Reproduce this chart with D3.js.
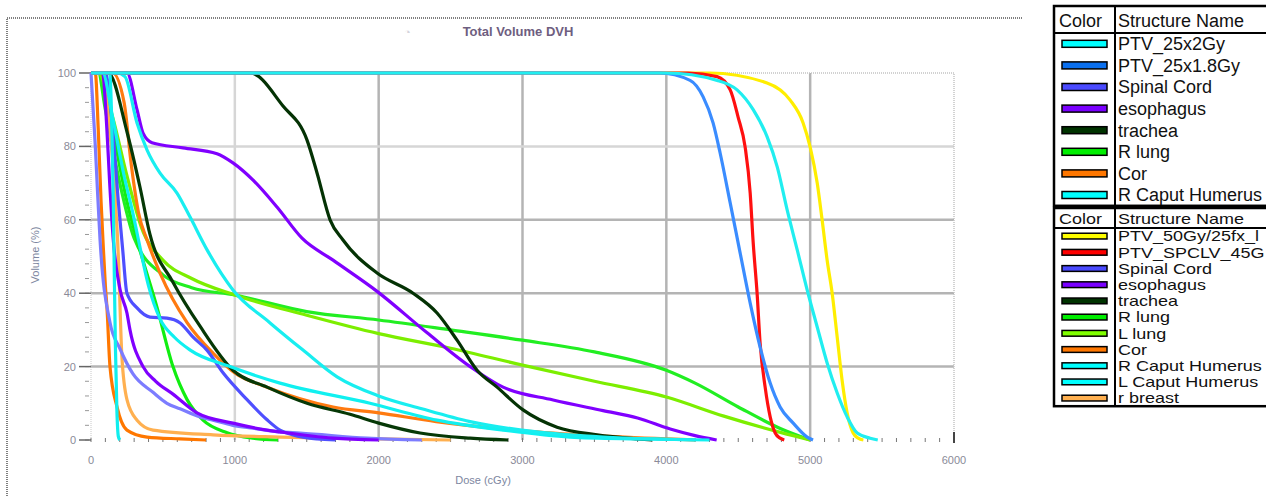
<!DOCTYPE html>
<html>
<head>
<meta charset="utf-8">
<script src="https://cdn.jsdelivr.net/npm/d3@7"></script>
<style>
  html, body { margin: 0; padding: 0; background: #fff; }
  svg { display: block; font-family: "Liberation Sans", Arial, sans-serif; }
</style>
</head>
<body>
<svg id="chart" width="1266" height="496"></svg>
<script>
// DVH curves, [dose cGy, volume %]
const ptv25x2Gy = [[0,100],[4000,100],[4353,98],[4492,95.4],[4604,90],[4701,82.6],[4771,74.4],[4840,62.7],[4910,51.8],[4979,40.9],[5049,30.8],[5118,21],[5188,12.8],[5257,6.3],[5327,1.9],[5417,0.5],[5470,0]];
const ptv25x18Gy = [[0,100],[3950,100],[4165,98],[4256,93.5],[4325,86.4],[4374,78.2],[4444,64.6],[4513,51],[4583,37.3],[4652,25.3],[4722,15.5],[4791,9],[4882,4.6],[4979,0.8],[5020,0]];
const ptv50Gy = [[0,100],[4300,100],[4700,97.3],[4861,92.6],[4951,86.4],[5000,79.8],[5049,70],[5083,60],[5118,49],[5153,40],[5188,28],[5222,16.3],[5257,7.4],[5299,1.9],[5334,0.5],[5370,0]];
const ptvSpclv = [[0,100],[4150,100],[4353,99],[4444,95.4],[4499,88],[4548,79.8],[4583,67.3],[4604,53.7],[4631,40],[4652,26.4],[4687,14.4],[4722,6.3],[4757,1.9],[4791,0.5],[4820,0]];

const spinalCordA = [[0,100],[100,100],[150,85],[190,65],[220,52],[250,40],[320,36],[410,33.5],[528,33.2],[620,31.9],[710,28],[806,24.5],[918,18.3],[1085,11],[1224,5.5],[1314,2.7],[1405,1.4],[1572,0.3],[1700,0]];
const spinalCordB = [[0,100],[15,90],[30,80],[45,68],[63,54.5],[132,32],[200,25],[292,18],[431,13],[528,10],[619,8.5],[758,6.3],[848,5.4],[987,4],[1127,3.2],[1314,2.2],[1453,1.9],[1919,0.5],[2300,0]];

const esophagusA = [[0,100],[250,100],[320,90],[362,83.6],[424,81],[640,79.6],[876,78],[987,75.5],[1127,70.8],[1293,63.5],[1467,55],[1683,49],[1989,40.5],[2337,29.2],[2636,20],[2865,14.4],[3213,10.9],[3560,8],[3800,6],[4027,3],[4200,1.2],[4350,0]];
const esophagusB = [[0,100],[80,100],[110,85],[130,70],[155,54.5],[202,41],[250,34.6],[271,30],[362,20],[450,16],[570,12.5],[737,7.4],[987,4.6],[1224,2.7],[1314,2.2],[1683,0.5],[2000,0]];

const tracheaA = [[0,100],[1106,100],[1335,91],[1502,81.7],[1572,72.7],[1662,60],[1752,54.5],[1989,45.5],[2239,40],[2406,34.6],[2545,27.2],[2684,19],[2823,14.4],[3004,8.2],[3240,3.5],[3519,1.4],[3797,0.3],[3900,0]];
const tracheaB = [[0,100],[120,100],[250,84],[340,69],[410,56],[570,43],[758,31],[987,19],[1224,14.4],[1502,10],[1801,7],[2000,4.6],[2288,1.9],[2636,0.5],[2900,0]];

const rLungA = [[0,100],[80,100],[150,85],[250,65],[320,54.5],[460,36],[570,20],[668,11],[779,5.4],[946,2],[1127,0.5],[1300,0]];
const rLungB = [[0,100],[50,100],[100,90],[200,70],[300,55],[500,45],[700,41.5],[1000,39.5],[1500,35],[2000,32.7],[2500,30],[3000,27.2],[3500,24],[4000,19],[4200,15.5],[4500,9],[4800,3],[5000,0]];
const lLung = [[0,100],[50,100],[150,88],[250,72],[350,58],[500,49],[700,44],[1000,39.5],[1500,34],[2000,29],[2500,25],[3000,20.4],[3500,16],[4000,11.7],[4400,6.5],[4800,2],[5000,0]];

const corA = [[0,100],[150,100],[230,92],[280,75],[330,62],[390,54.5],[480,45.5],[668,32],[848,23.7],[1000,18.3],[1224,14.4],[1683,9],[2000,7.4],[2400,5],[3000,2.5],[3500,1.2],[4000,0.3],[4200,0]];
const corB = [[0,100],[30,100],[50,85],[70,65],[83,54.5],[100,42],[111,36],[132,20],[181,9],[250,2.7],[390,0.8],[620,0.3],[800,0]];
const rBreast = [[0,100],[80,100],[130,85],[170,65],[195,45],[202,36],[215,22.6],[250,11],[320,5.4],[431,2.7],[848,1.4],[1314,0.8],[2000,0.3],[2500,0]];

const humerusA = [[0,100],[130,100],[145,85],[155,65],[162,45],[170,25],[180,8],[190,1],[200,0]];
const humerusB = [[0,100],[180,100],[236,99],[320,86.4],[390,79],[480,72.7],[598,67.3],[688,60.8],[807,51.8],[987,40.9],[1245,31.9],[1474,24.5],[1711,17.2],[2000,12],[2300,8.5],[2636,5],[3100,2.2],[3560,0.8],[4000,0.2],[4200,0]];
const humerusC = [[0,100],[80,100],[150,88],[230,72],[290,62],[330,54.5],[400,42],[480,33],[580,28],[690,24.5],[966,20],[1314,15.5],[1940,10],[2406,5.4],[2865,2.7],[3331,0.8],[3800,0.3],[4300,0]];

// draw order (last on top) and colours
const curves = [
  [rLungB, '#22ee22'], [lLung, '#7cee00'], [rLungA, '#11ee11'],
  [corA, '#ff7a10'], [corB, '#ff7700'], [rBreast, '#ffb050'],
  [spinalCordB, '#7c7cff'], [spinalCordA, '#4f4fff'],
  [esophagusB, '#7f00ff'], [esophagusA, '#8000ff'],
  [tracheaB, '#063806'], [tracheaA, '#043204'],
  [humerusA, '#10eeee'], [humerusC, '#10f0f0'], [humerusB, '#18eef0'],
  [ptv50Gy, '#ffee00'], [ptvSpclv, '#ff1010'], [ptv25x18Gy, '#3a8cff'],
  [ptv25x2Gy, '#20eef0']
];

const xTicks = [0, 1000, 2000, 3000, 4000, 5000, 6000];
const yTicks = [0, 20, 40, 60, 80, 100];

const legend1Names = ['PTV_25x2Gy', 'PTV_25x1.8Gy', 'Spinal Cord', 'esophagus', 'trachea', 'R lung', 'Cor', 'R Caput Humerus'];
const legend1Colors = ['#00ffff', '#0a70f0', '#4a4aff', '#7a00ff', '#003300', '#00ee00', '#ff7700', '#00ffff'];
const legend2Names = ['PTV_50Gy/25fx_l', 'PTV_SPCLV_45G', 'Spinal Cord', 'esophagus', 'trachea', 'R lung', 'L lung', 'Cor', 'R Caput Humerus', 'L Caput Humerus', 'r breast'];
const legend2Colors = ['#ffff00', '#ff0000', '#4a4aff', '#7a00ff', '#003300', '#00ee00', '#80ff00', '#ff7700', '#00ffff', '#00ffff', '#ffb050'];

const svg = d3.select('#chart');

const x = d3.scaleLinear().domain([0, 6000]).range([91, 954]);
const y = d3.scaleLinear().domain([0, 100]).range([440, 73]);

// outer frame (dotted)
svg.append('path')
  .attr('d', 'M7,496V18H1022')
  .attr('fill', 'none')
  .attr('stroke', '#555')
  .attr('stroke-width', 1.5)
  .attr('stroke-dasharray', '1,1');

// title + faint icon
svg.append('text')
  .attr('x', 404).attr('y', 36)
  .attr('font-size', 11)
  .attr('fill', '#d4d4dc')
  .text('◔');
svg.append('text')
  .attr('x', 518).attr('y', 36)
  .attr('text-anchor', 'middle')
  .attr('font-size', 13).attr('font-weight', 'bold')
  .attr('fill', '#6e5e80')
  .text('Total Volume DVH');

// grid
svg.append('g').selectAll('line')
  .data(xTicks.slice(1, -1))
  .join('line')
  .attr('x1', d => x(d)).attr('x2', d => x(d))
  .attr('y1', y(100)).attr('y2', y(0))
  .attr('stroke', d => d === 1000 ? '#d6d6d6' : '#b4b4b4')
  .attr('stroke-width', 2.5);

svg.append('g').selectAll('line')
  .data(yTicks.slice(1, -1))
  .join('line')
  .attr('x1', x(0)).attr('x2', x(6000))
  .attr('y1', d => y(d)).attr('y2', d => y(d))
  .attr('stroke', d => d === 80 ? '#d6d6d6' : '#b4b4b4')
  .attr('stroke-width', 2.5);

// plot border
svg.append('path')
  .attr('d', `M${x(0)},${y(100)}H${x(6000)}V${y(0)}`)
  .attr('fill', 'none')
  .attr('stroke', '#c4c4c4')
  .attr('stroke-width', 1.5)
  .attr('stroke-dasharray', '1,1');
svg.append('line')
  .attr('x1', x(0)).attr('x2', x(0))
  .attr('y1', y(100)).attr('y2', y(0))
  .attr('stroke', '#c8c8c8').attr('stroke-dasharray', '1,1');

// minor ticks
svg.append('g').selectAll('line')
  .data(d3.range(0, 6000, 100))
  .join('line')
  .attr('x1', d => x(d)).attr('x2', d => x(d))
  .attr('y1', y(0) - 2).attr('y2', y(0) + 2)
  .attr('stroke', '#777').attr('stroke-width', 1);

svg.append('g').selectAll('line')
  .data(d3.range(0, 100, 4))
  .join('line')
  .attr('x1', x(0) - 6).attr('x2', x(0) - 2)
  .attr('y1', d => y(d)).attr('y2', d => y(d))
  .attr('stroke', '#999').attr('stroke-width', 1);

svg.append('g').selectAll('line')
  .data(yTicks)
  .join('line')
  .attr('x1', x(0) - 12).attr('x2', x(0))
  .attr('y1', d => y(d)).attr('y2', d => y(d))
  .attr('stroke', '#666').attr('stroke-width', 1.5);

svg.append('line')
  .attr('x1', x(6000)).attr('x2', x(6000))
  .attr('y1', y(0) - 8).attr('y2', y(0) + 3)
  .attr('stroke', '#444').attr('stroke-width', 2);

// curves
svg.append('clipPath').attr('id', 'plotClip')
  .append('rect')
  .attr('x', x(0) - 2).attr('y', y(100) - 3)
  .attr('width', x(6000) - x(0) + 4).attr('height', y(0) - y(100) + 6);

const line = d3.line()
  .x(d => x(d[0]))
  .y(d => y(d[1]))
  .curve(d3.curveMonotoneX);

svg.append('g').attr('clip-path', 'url(#plotClip)')
  .selectAll('path')
  .data(curves)
  .join('path')
  .attr('d', d => line(d[0]))
  .attr('fill', 'none')
  .attr('stroke', d => d[1])
  .attr('stroke-width', 3.2)
  .attr('stroke-linejoin', 'round');

// tick labels
svg.append('g').selectAll('text')
  .data(xTicks)
  .join('text')
  .attr('x', d => x(d)).attr('y', 464)
  .attr('text-anchor', 'middle')
  .attr('font-size', 11)
  .attr('fill', '#8a8a98')
  .text(d => d);

svg.append('g').selectAll('text')
  .data(yTicks)
  .join('text')
  .attr('x', 76).attr('y', d => y(d) + 4)
  .attr('text-anchor', 'end')
  .attr('font-size', 11)
  .attr('fill', '#8a8a98')
  .text(d => d);

svg.append('text')
  .attr('x', 483).attr('y', 484)
  .attr('text-anchor', 'middle')
  .attr('font-size', 11)
  .attr('fill', '#7c86a0')
  .text('Dose (cGy)');

svg.append('text')
  .attr('transform', 'translate(39,255) rotate(-90)')
  .attr('text-anchor', 'middle')
  .attr('font-size', 11)
  .attr('fill', '#7c86a0')
  .text('Volume (%)');

// legend tables
function drawTable(top, headH, rowH, names, colors, sy) {
  const g = svg.append('g');
  const bottom = top + headH + rowH * names.length;
  g.append('rect')
    .attr('x', 1054).attr('y', top)
    .attr('width', 230).attr('height', bottom - top)
    .attr('fill', '#fff').attr('stroke', '#000').attr('stroke-width', 2.5);
  g.append('line')
    .attr('x1', 1054).attr('x2', 1266)
    .attr('y1', top + headH).attr('y2', top + headH)
    .attr('stroke', '#000').attr('stroke-width', 2);
  g.append('line')
    .attr('x1', 1115).attr('x2', 1115)
    .attr('y1', top).attr('y2', bottom)
    .attr('stroke', '#000').attr('stroke-width', 2);

  const cy0 = top + headH / 2 + 1;
  g.append('text')
    .attr('transform', `translate(1059,${cy0}) scale(1,${sy})`)
    .attr('dy', '0.36em')
    .attr('font-size', 18).attr('fill', '#111')
    .text('Color');
  g.append('text')
    .attr('transform', `translate(1118,${cy0}) scale(1,${sy})`)
    .attr('dy', '0.36em')
    .attr('font-size', 18).attr('fill', '#111')
    .text('Structure Name');

  const rows = g.selectAll('g.row')
    .data(names)
    .join('g')
    .attr('class', 'row')
    .attr('transform', (d, i) => `translate(0,${top + headH + rowH * (i + 0.5)})`);
  rows.append('rect')
    .attr('x', 1062).attr('y', -3.5 * sy)
    .attr('width', 45).attr('height', 7 * sy)
    .attr('fill', (d, i) => colors[i])
    .attr('stroke', '#000').attr('stroke-width', 1.5);
  rows.append('text')
    .attr('transform', `translate(1118,0) scale(1,${sy})`)
    .attr('dy', '0.36em')
    .attr('font-size', 18).attr('fill', '#111')
    .text(d => d);
}

drawTable(6, 27, 21.6, legend1Names, legend1Colors, 1);
drawTable(208, 20, 16.2, legend2Names, legend2Colors, 0.82);
</script>
</body>
</html>
